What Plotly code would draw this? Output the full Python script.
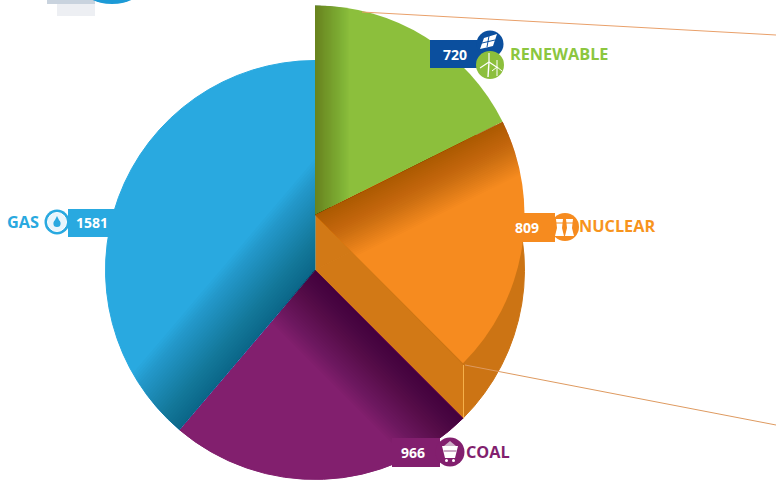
import math
import plotly.graph_objects as go

W, H = 776, 480

categories = ["RENEWABLE", "NUCLEAR", "COAL", "GAS"]
values = [720, 809, 966, 1581]
top_colors = ["#8CBF3C", "#F68B1F", "rgba(0,0,0,0)", "rgba(0,0,0,0)"]
base_colors = ["#CC7414", "#CC7414", "#821F6E", "#29A9E0"]

# centre of each disc, in page pixels, and their shared radius
BASE_C = (315, 270)
TOP_C = (315, 215)
R = 209.5


def X(x):
    return x / W


def Y(y):
    return 1 - y / H


def dom(c):
    return dict(x=[X(c[0] - R), X(c[0] + R)], y=[Y(c[1] + R), Y(c[1] - R)])


def P(pts, close=True):
    s = "M " + " L ".join(f"{X(a):.5f},{Y(b):.5f}" for a, b in pts)
    return s + (" Z" if close else "")


shapes = []


def poly(pts, fill, line=None, lw=0, close=True):
    shapes.append(dict(type="path", xref="paper", yref="paper", path=P(pts, close),
                       fillcolor=fill if close else "rgba(0,0,0,0)",
                       line=dict(color=line or "rgba(0,0,0,0)", width=lw)))


def line(x0, y0, x1, y1, color, lw=1):
    shapes.append(dict(type="line", xref="paper", yref="paper", x0=X(x0), y0=Y(y0),
                       x1=X(x1), y1=Y(y1), line=dict(color=color, width=lw)))


def rect(x0, y0, x1, y1, fill):
    shapes.append(dict(type="rect", xref="paper", yref="paper", x0=X(x0), y0=Y(y0),
                       x1=X(x1), y1=Y(y1), fillcolor=fill, line=dict(width=0)))


def circle(cx, cy, r, fill, lc=None, lw=0):
    shapes.append(dict(type="circle", xref="paper", yref="paper", x0=X(cx - r), y0=Y(cy + r),
                       x1=X(cx + r), y1=Y(cy - r), fillcolor=fill,
                       line=dict(color=lc or "rgba(0,0,0,0)", width=lw)))


def pol(c, deg, r):
    a = math.radians(deg)
    return (c[0] + r * math.sin(a), c[1] - r * math.cos(a))


# slice boundaries (degrees clockwise from 12 o'clock), from the values
total = sum(values)
edges = [0]
for v in values:
    edges.append(edges[-1] + 360 * v / total)


def strip(c, edge, wedge, d):
    """Part of a wedge lying within distance d of the wedge's first edge."""
    td = math.degrees(math.asin(d / R))
    n = max(2, int(td * 2))
    pts = [c] + [pol(c, edge + td * i / n, R) for i in range(n + 1)]
    pts.append(pol(c, edge + wedge, d / math.sin(math.radians(wedge))))
    return pts


def shade(c, edge, wedge, width, rgb, alpha, steps=30):
    """Soft darkening that runs parallel to one slice edge."""
    for i in range(1, steps + 1):
        shapes.append(dict(type="path", xref="paper", yref="paper",
                           path=P(strip(c, edge, wedge, width * i / steps)),
                           fillcolor=f"rgba({rgb},{alpha})", line=dict(width=0)))


shade(BASE_C, edges[3], edges[4] - edges[3], 72, "0,45,70", 0.021)   # gas, along coal
shade(BASE_C, edges[2], edges[3] - edges[2], 68, "25,0,30", 0.027)   # coal, along nuclear
shade(TOP_C, edges[0], edges[1] - edges[0], 34, "40,70,30", 0.016)   # renewable, along the vertical
shade(TOP_C, edges[1], edges[2] - edges[1], 55, "90,45,0", 0.019)    # nuclear, along renewable

# lighter front face of the extruded nuclear block, and its corner line
poly([(315, 215), (463, 365), (463, 418), (315, 270)], "rgba(240,150,40,0.16)")
line(463.5, 365, 463.5, 418, "#F5B04A", 1)

# leader lines
line(362, 12, 776, 35, "#E9A06A", 1)
line(465, 365, 776, 425, "#DE9A60", 1)

# clipped page furniture at the top edge
rect(47, 0, 95, 4, "#C9D3DE")
rect(57, 4, 95, 16, "#EDEFF3")
shapes.append(dict(type="circle", xref="paper", yref="paper", x0=X(82), y0=Y(4), x1=X(142), y1=Y(-30),
                   fillcolor="#1C9AD6", line=dict(width=0)))

# RENEWABLE tag and icons
rect(430, 40, 481, 68, "#0B4F9E")
circle(490, 44, 13.5, "#0B4F9E")
circle(490, 65, 14, "#8CBF3C")
poly([(484, 38), (497, 34), (493, 46), (480, 49)], "#FFFFFF")
line(489, 36, 487, 47, "#0B4F9E", 1)
line(482, 43, 495, 40, "#0B4F9E", 1)
line(488, 77, 489, 62, "#FFFFFF", 1.4)
line(489, 62, 489, 53, "#FFFFFF", 1.2)
line(489, 62, 480, 68, "#FFFFFF", 1.2)
line(489, 62, 498, 68, "#FFFFFF", 1.2)
line(497, 76, 497, 67, "#FFFFFF", 1)
line(497, 67, 497, 60, "#FFFFFF", 1)
line(497, 67, 492, 71, "#FFFFFF", 1)
line(497, 67, 502, 71, "#FFFFFF", 1)

# NUCLEAR tag and icon
rect(503, 213, 555, 242, "#F68B1F")
circle(565, 227, 14, "#F68B1F")
poly([(556, 219), (563, 219), (562, 228), (564, 236), (555, 236), (557, 228)], "#FFFFFF")
poly([(566, 219), (573, 219), (572, 228), (574, 236), (565, 236), (567, 228)], "#FFFFFF")
line(555, 223, 564, 223, "#F68B1F", 1)
line(565, 223, 574, 223, "#F68B1F", 1)

# GAS tag and icon
rect(68, 209, 118, 237, "#29A9E0")
circle(57, 222, 12.5, "#29A9E0")
circle(57, 222, 9.5, "#E7F5FC", "#FFFFFF", 1)
circle(57, 223.5, 3.6, "#29A9E0")
poly([(57, 216), (60, 222), (54, 222)], "#29A9E0")

# COAL tag and icon
rect(392, 438, 440, 467, "#821F6E")
circle(450, 452, 14.5, "#821F6E")
poly([(442, 446), (458, 446), (455, 458), (445, 458)], "#FFFFFF")
poly([(444, 446), (450, 441), (456, 446)], "#CDB0C8")
line(443.5, 451, 456.5, 451, "#B98CB0", 1.5)
circle(446.5, 460.5, 1.5, "#FFFFFF")
circle(453.5, 460.5, 1.5, "#FFFFFF")

FONT = "Open Sans"


def txt(x, y, s, color, size, anchor="center"):
    return dict(x=X(x), y=Y(y), xref="paper", yref="paper", text=f"<b>{s}</b>",
                showarrow=False, xanchor=anchor, yanchor="middle",
                font=dict(family=FONT, size=size, color=color))


annotations = [
    txt(508, 54, categories[0], "#8CC63F", 16.3, "left"),
    txt(455, 54, str(values[0]), "#FFFFFF", 14),
    txt(577, 226, categories[1], "#F7941D", 16.3, "left"),
    txt(527, 227, str(values[1]), "#FFFFFF", 14),
    txt(464, 452, categories[2], "#821F6E", 16.3, "left"),
    txt(413, 452, str(values[2]), "#FFFFFF", 14),
    txt(5, 222, categories[3], "#29A9E0", 16.3, "left"),
    txt(92, 222, str(values[3]), "#FFFFFF", 14),
]

pie_common = dict(labels=categories, values=values, sort=False, direction="clockwise", rotation=0,
                  textinfo="none", hoverinfo="label+value", showlegend=False)

fig = go.Figure()
fig.add_trace(go.Pie(domain=dom(BASE_C),
                     marker=dict(colors=base_colors, line=dict(width=1, color=base_colors)), **pie_common))
fig.add_trace(go.Pie(domain=dom(TOP_C), marker=dict(colors=top_colors, line=dict(width=0)), **pie_common))

fig.update_layout(width=W, height=H, margin=dict(l=0, r=0, t=0, b=0), paper_bgcolor="#FFFFFF",
                  shapes=shapes, annotations=annotations, showlegend=False)

fig.write_html("out.html", config=dict(displayModeBar=False),
               post_script="document.body.style.margin='0';document.documentElement.style.overflow='hidden';")
